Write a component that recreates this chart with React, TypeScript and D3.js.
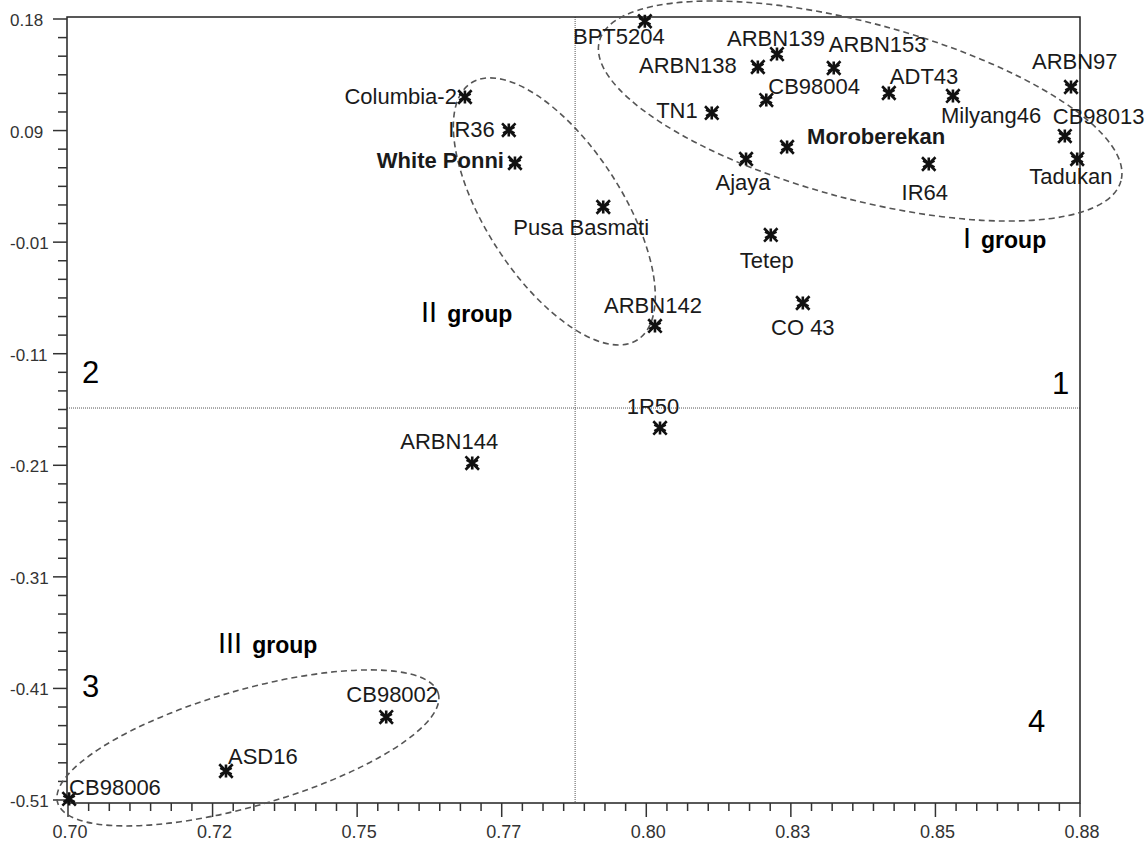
import { useEffect, useRef } from 'react';
import * as d3 from 'd3';

// cultivar coordinates
const cultivars = [
  'BPT5204', 'ARBN139', 'ARBN138', 'ARBN153', 'CB98004', 'ADT43', 'Milyang46', 'ARBN97',
  'CB98013', 'Tadukan', 'Moroberekan', 'IR64', 'Ajaya', 'TN1', 'Tetep', 'CO 43',
  'ARBN142', '1R50', 'Pusa Basmati', 'Columbia-2', 'IR36', 'White Ponni', 'ARBN144',
  'CB98002', 'ASD16', 'CB98006',
];
const xValues = [
  0.8026, 0.8261, 0.8227, 0.8362, 0.8242, 0.846, 0.8574, 0.8784,
  0.8773, 0.8795, 0.8279, 0.8531, 0.8206, 0.8145, 0.825, 0.8307,
  0.8044, 0.8053, 0.7952, 0.7706, 0.7784, 0.7795, 0.7719,
  0.7566, 0.7281, 0.7002,
];
const yValues = [
  0.178, 0.149, 0.1376, 0.1367, 0.1084, 0.1146, 0.112, 0.1199,
  0.0766, 0.0563, 0.0669, 0.0519, 0.0563, 0.097, -0.0108, -0.0709,
  -0.0912, -0.1813, 0.0139, 0.1111, 0.0819, 0.0528, -0.2123,
  -0.4367, -0.4844, -0.509,
];
const boldNames = ['Moroberekan', 'White Ponni'];

const xTickLabels = ['0.70', '0.72', '0.75', '0.77', '0.80', '0.83', '0.85', '0.88'];
const yTickLabels = ['0.18', '0.09', '-0.01', '-0.11', '-0.21', '-0.31', '-0.41', '-0.51'];

const refX = 0.7902;
const refY = -0.1637;

// group ellipses: centre in data units
const groupNames = ['I', 'II', 'III'];
const groupCx = [0.8409, 0.7865, 0.7320];
const groupCy = [0.0987, 0.0100, -0.4640];

// label placement around each marker [dx, dy, anchor]
const labelPlace = {
  'BPT5204': [-26, 23, 'middle'],
  'ARBN139': [-1, -8, 'middle'],
  'ARBN138': [-21, 6, 'end'],
  'ARBN153': [-5, -16, 'start'],
  'CB98004': [2, -6, 'start'],
  'ADT43': [1, -9, 'start'],
  'Milyang46': [-12, 27, 'start'],
  'ARBN97': [-39, -18, 'start'],
  'CB98013': [-12, -12, 'start'],
  'Tadukan': [-48, 25, 'start'],
  'Moroberekan': [20, -3, 'start'],
  'IR64': [-4, 36, 'middle'],
  'Ajaya': [-3, 31, 'middle'],
  'TN1': [-14, 5, 'end'],
  'Tetep': [-4, 33, 'middle'],
  'CO 43': [0, 32, 'middle'],
  'ARBN142': [-2, -13, 'middle'],
  '1R50': [-7, -14, 'middle'],
  'Pusa Basmati': [-22, 28, 'middle'],
  'Columbia-2': [-8, 7, 'end'],
  'IR36': [-14, 7, 'end'],
  'White Ponni': [-11, 5, 'end'],
  'ARBN144': [-23, -14, 'middle'],
  'CB98002': [6, -15, 'middle'],
  'ASD16': [2, -7, 'start'],
  'CB98006': [0, -4, 'start'],
};

function ScatterPlot() {
  const svgRef = useRef(null);

  useEffect(() => {
    const width = 1146;
    const height = 844;
    const left = 67;
    const right = 1080;
    const top = 17;
    const bottom = 803;

    d3.select(svgRef.current).selectAll('*').remove();

    const svg = d3
      .select(svgRef.current)
      .attr('width', width)
      .attr('height', height)
      .attr('viewBox', `0 0 ${width} ${height}`)
      .style('font-family', '"Liberation Sans", Arial, sans-serif');

    svg.append('rect').attr('width', width).attr('height', height).attr('fill', 'white');

    const x = d3.scaleLinear().domain([0.70, 0.88]).range([68, right]);
    const y = d3.scaleLinear().domain([-0.51, 0.18]).range([800, 19]);

    const xMajor = d3.range(8).map((i) => 0.70 + (i * 0.18) / 7);
    const yMajor = d3.range(8).map((i) => 0.18 - (i * 0.69) / 7);
    const xStep = 0.18 / 7 / 7;
    const yStep = 0.69 / 7 / 6;
    const xMinor = d3.range(0, 49).map((i) => 0.70 + i * xStep).filter((_, i) => i % 7 !== 0);
    const yMinor = d3.range(0, 42).map((i) => 0.18 - i * yStep).filter((_, i) => i % 6 !== 0);

    // reference lines
    svg
      .append('line')
      .attr('x1', x(refX))
      .attr('x2', x(refX))
      .attr('y1', top)
      .attr('y2', bottom)
      .attr('stroke', '#555')
      .attr('stroke-width', 1)
      .attr('stroke-dasharray', '1,1');
    svg
      .append('line')
      .attr('x1', left)
      .attr('x2', right)
      .attr('y1', y(refY))
      .attr('y2', y(refY))
      .attr('stroke', '#555')
      .attr('stroke-width', 1)
      .attr('stroke-dasharray', '1,1');

    // frame
    svg
      .append('rect')
      .attr('x', left)
      .attr('y', top)
      .attr('width', right - left)
      .attr('height', bottom - top)
      .attr('fill', 'none')
      .attr('stroke', '#222')
      .attr('stroke-width', 1.5);

    // y ticks
    const yAxis = svg.append('g').attr('stroke', '#333').attr('stroke-width', 1.5);
    yAxis
      .selectAll('.ymaj')
      .data(yMajor)
      .enter()
      .append('line')
      .attr('x1', left - 14)
      .attr('x2', left)
      .attr('y1', (d) => y(d))
      .attr('y2', (d) => y(d));
    yAxis
      .selectAll('.ymin')
      .data(yMinor)
      .enter()
      .append('line')
      .attr('x1', left - 9)
      .attr('x2', left)
      .attr('y1', (d) => y(d))
      .attr('y2', (d) => y(d));

    svg
      .selectAll('.ylab')
      .data(yMajor)
      .enter()
      .append('text')
      .attr('x', 10)
      .attr('y', (d) => y(d) + 7)
      .attr('font-size', 17)
      .attr('fill', '#333')
      .text((d, i) => yTickLabels[i]);

    // x ticks
    const xAxis = svg.append('g').attr('stroke', '#333').attr('stroke-width', 1.5);
    xAxis
      .selectAll('.xmaj')
      .data(xMajor)
      .enter()
      .append('line')
      .attr('x1', (d) => x(d))
      .attr('x2', (d) => x(d))
      .attr('y1', bottom)
      .attr('y2', bottom + 14);
    xAxis
      .selectAll('.xmin')
      .data(xMinor)
      .enter()
      .append('line')
      .attr('x1', (d) => x(d))
      .attr('x2', (d) => x(d))
      .attr('y1', bottom)
      .attr('y2', bottom + 8);

    svg
      .selectAll('.xlab')
      .data(xMajor)
      .enter()
      .append('text')
      .attr('x', (d) => x(d) + 2)
      .attr('y', 838)
      .attr('text-anchor', 'middle')
      .attr('font-size', 18)
      .attr('fill', '#333')
      .text((d, i) => xTickLabels[i]);

    // group ellipses
    const ellipseShape = [
      [270, 88, 15],
      [153, 68, 57],
      [198, 58, -16],
    ];
    svg
      .selectAll('.grp')
      .data(groupNames)
      .enter()
      .append('ellipse')
      .attr('transform', (d, i) => `translate(${x(groupCx[i])},${y(groupCy[i])}) rotate(${ellipseShape[i][2]})`)
      .attr('rx', (d, i) => ellipseShape[i][0])
      .attr('ry', (d, i) => ellipseShape[i][1])
      .attr('fill', 'none')
      .attr('stroke', '#555')
      .attr('stroke-width', 1.6)
      .attr('stroke-dasharray', '6,4');

    // markers
    const points = cultivars.map((name, i) => ({ name, x: xValues[i], y: yValues[i] }));
    const star = d3.symbol().type(d3.symbolAsterisk).size(120);
    const cross = d3.symbol().type(d3.symbolTimes).size(120);

    const marks = svg
      .selectAll('.pt')
      .data(points)
      .enter()
      .append('g')
      .attr('transform', (d) => `translate(${x(d.x)},${y(d.y)})`);
    marks.append('path').attr('d', star).attr('fill', 'none').attr('stroke', '#111').attr('stroke-width', 2.6);
    marks.append('path').attr('d', cross).attr('fill', 'none').attr('stroke', '#111').attr('stroke-width', 2.6);

    // labels
    svg
      .selectAll('.lab')
      .data(points)
      .enter()
      .append('text')
      .attr('x', (d) => x(d.x) + labelPlace[d.name][0])
      .attr('y', (d) => y(d.y) + labelPlace[d.name][1])
      .attr('text-anchor', (d) => labelPlace[d.name][2])
      .attr('font-size', 22)
      .attr('font-weight', (d) => (boldNames.includes(d.name) ? 'bold' : 'normal'))
      .attr('fill', '#1a1a1a')
      .text((d) => d.name);

    // quadrant numbers
    const quadrants = [
      ['1', 1052, 394],
      ['2', 82, 383],
      ['3', 82, 697],
      ['4', 1028, 732],
    ];
    svg
      .selectAll('.quad')
      .data(quadrants)
      .enter()
      .append('text')
      .attr('x', (d) => d[1])
      .attr('y', (d) => d[2])
      .attr('font-size', 31)
      .attr('fill', '#000')
      .text((d) => d[0]);

    // group captions
    const captions = [
      ['I', 963, 248],
      ['II', 421, 322],
      ['III', 218, 653],
    ];
    const cap = svg
      .selectAll('.cap')
      .data(captions)
      .enter()
      .append('text')
      .attr('x', (d) => d[1])
      .attr('y', (d) => d[2])
      .attr('fill', '#000');
    cap.append('tspan').attr('font-size', 29).text((d) => d[0]);
    cap
      .append('tspan')
      .attr('dx', 10)
      .attr('font-size', 23)
      .attr('font-weight', 'bold')
      .text('group');
  }, []);

  return <svg ref={svgRef} style={{ position: 'absolute', left: 0, top: 0, display: 'block' }}></svg>;
}

export default function App() {
  return <ScatterPlot />;
}
